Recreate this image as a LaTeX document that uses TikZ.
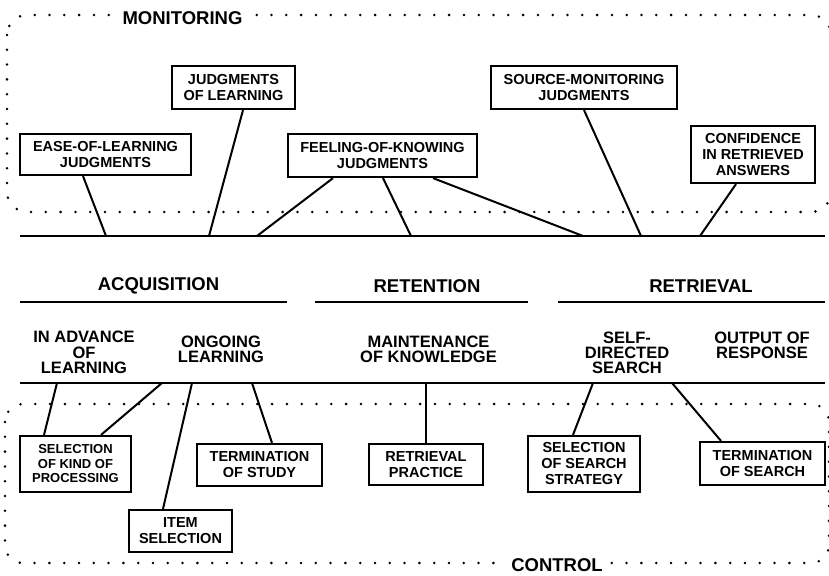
\documentclass[tikz,border=0pt]{standalone}
\usepackage{fontspec}
\setmainfont{Liberation Sans}
\newcommand\myfs[2]{\fontsize{#1}{#2}\selectfont}
\begin{document}
\begin{tikzpicture}[x=1pt,y=-1pt,
  box/.style={draw,line width=2.2pt,align=center,inner sep=1pt,font=\bfseries\myfs{14.5}{16}},
  smallbox/.style={box,font=\bfseries\myfs{13}{14.5}},
  link/.style={line width=2pt},
  rule/.style={line width=2.4pt},
  dots/.style={line width=2.8pt,line cap=round,dash pattern=on 0pt off 14.8pt},
  head/.style={font=\bfseries\myfs{18.5}{20},inner sep=0pt},
  sub/.style={font=\bfseries\myfs{16.5}{15.2},align=center,inner sep=0pt},
  region/.style={font=\bfseries\myfs{18.5}{20},fill=white,inner ysep=2pt}]
\useasboundingbox (0,0) rectangle (829,575);
\fill[white] (0,0) rectangle (829,575);

% dotted regions
\draw[dots,rounded corners=20pt] (7,15) rectangle (831,212);
\draw[dots,rounded corners=18pt] (5,404) rectangle (829,563);
\node[region,inner xsep=8pt] (mon) at (182.5,18) {MONITORING};
\node[region,inner xsep=4pt] (ctl) at (557,565) {CONTROL};

% main rules
\coordinate (tl) at (20,236); \coordinate (tr) at (825,236);
\coordinate (bl) at (20,383); \coordinate (br) at (825,383);
\draw[rule] (tl) -- (tr);
\draw[rule] (bl) -- (br);

% headings
\node[head] (acq) at (158.5,286) {ACQUISITION};
\node[head] (ret) at (427,286) {RETENTION};
\node[head] (rtv) at (701,286) {RETRIEVAL};
\coordinate (a1) at (20,302); \coordinate (a2) at (287,302);
\coordinate (r1) at (315,302); \coordinate (r2) at (528,302);
\coordinate (v1) at (558,302); \coordinate (v2) at (825,302);
\draw[rule] (a1) -- (a2);
\draw[rule] (r1) -- (r2);
\draw[rule] (v1) -- (v2);

\node[sub] (adv) at (84,352.5) {IN ADVANCE\\OF\\LEARNING};
\node[sub] (ong) at (221,349) {ONGOING\\LEARNING};
\node[sub] (mnt) at (428.5,349) {MAINTENANCE\\OF KNOWLEDGE};
\node[sub] (sds) at (627,353) {SELF-\\DIRECTED\\SEARCH};
\node[sub] (out) at (762,345) {OUTPUT OF\\RESPONSE};

% monitoring boxes
\node[box,minimum width=171pt,minimum height=41pt] (eol) at (105.5,154.5) {EASE-OF-LEARNING\\JUDGMENTS};
\node[box,minimum width=123pt,minimum height=43pt] (jol) at (233.5,87.5) {JUDGMENTS\\OF LEARNING};
\node[box,minimum width=189pt,minimum height=43pt] (fok) at (382.5,155.5) {FEELING-OF-KNOWING\\JUDGMENTS};
\node[box,minimum width=186pt,minimum height=43pt] (smj) at (584,87.5) {SOURCE-MONITORING\\JUDGMENTS};
\node[box,minimum width=124pt,minimum height=57pt] (cnf) at (753,154.5) {CONFIDENCE\\IN RETRIEVED\\ANSWERS};

\coordinate (m1) at (106,236);
\coordinate (m2) at (209,236);
\coordinate (m3) at (257,236);
\coordinate (m4) at (411,236);
\coordinate (m5) at (583,236);
\coordinate (m6) at (641,236);
\coordinate (m7) at (700,236);
\draw[link] ([xshift=-22.5pt]eol.south) -- (m1);
\draw[link] ([xshift=9.5pt]jol.south) -- (m2);
\draw[link] ([xshift=-49.5pt]fok.south) -- (m3);
\draw[link] ([xshift=0.5pt]fok.south) -- (m4);
\draw[link] ([xshift=50.5pt]fok.south) -- (m5);
\draw[link] (smj.south) -- (m6);
\draw[link] ([xshift=-17pt]cnf.south) -- (m7);

% control boxes
\node[smallbox,minimum width=111pt,minimum height=56pt] (skp) at (75.5,464) {SELECTION\\OF KIND OF\\PROCESSING};
\node[box,minimum width=103pt,minimum height=42pt] (itm) at (180.5,531) {ITEM\\SELECTION};
\node[box,minimum width=125pt,minimum height=42pt] (tst) at (259.5,465) {TERMINATION\\OF STUDY};
\node[box,minimum width=114pt,minimum height=41pt] (rpr) at (426,464.5) {RETRIEVAL\\PRACTICE};
\node[box,minimum width=112pt,minimum height=56pt] (sss) at (584,464) {SELECTION\\OF SEARCH\\STRATEGY};
\node[box,minimum width=125pt,minimum height=43pt] (tse) at (762.5,463.5) {TERMINATION\\OF SEARCH};

\coordinate (c1) at (57,383);
\coordinate (c2) at (162,383);
\coordinate (c3) at (192,383);
\coordinate (c4) at (252,383);
\coordinate (c5) at (426,383);
\coordinate (c6) at (593,383);
\coordinate (c7) at (672,383);
\draw[link] (c1) -- ([xshift=-31.5pt]skp.north);
\draw[link] (c2) -- ([xshift=25.5pt]skp.north);
\draw[link] (c3) -- ([xshift=-17.5pt]itm.north);
\draw[link] (c4) -- ([xshift=12.5pt]tst.north);
\draw[link] (c5) -- (rpr.north);
\draw[link] (c6) -- ([xshift=-11pt]sss.north);
\draw[link] (c7) -- ([xshift=-41.5pt]tse.north);
\end{tikzpicture}
\end{document}
